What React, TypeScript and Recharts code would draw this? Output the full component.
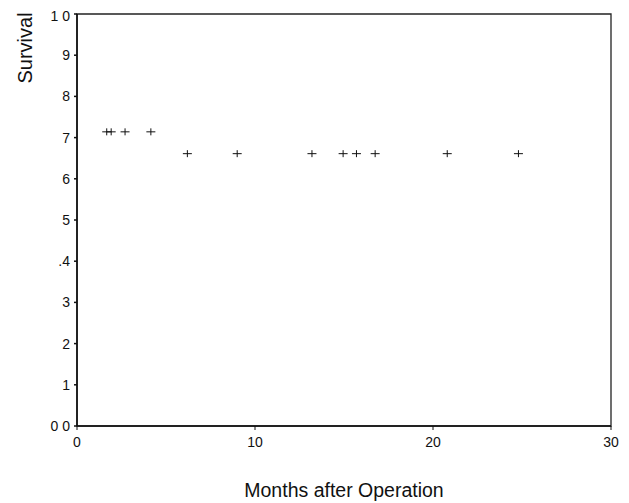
import React from 'react';
import { ScatterChart, Scatter, XAxis, YAxis, ReferenceArea } from 'recharts';

// tick values and the labels as they appear on the scan
const xTicks = [0, 10, 20, 30];
const yTicks = [0, 0.1, 0.2, 0.3, 0.4, 0.5, 0.6, 0.7, 0.8, 0.9, 1.0];
const yTickLabels = ['0 0', '1', '2', '3', '.4', '5', '6', '7', '8', '9', '1 0'];

// censored observations (+ marks)
const censorMonths = [1.67, 1.92, 2.7, 4.15, 6.2, 9.0, 13.2, 14.95, 15.7, 16.75, 20.8, 24.8];
const censorSurvival = [0.714, 0.714, 0.714, 0.714, 0.661, 0.661, 0.661, 0.661, 0.661, 0.661, 0.661, 0.661];

const data = censorMonths.map((m, i) => ({ month: m, survival: censorSurvival[i] }));

const CensorMark = (props) => {
  const { cx, cy } = props;
  return (
    <g stroke="#111" strokeWidth={1}>
      <line x1={cx} y1={cy - 3.5} x2={cx} y2={cy + 3.5} />
      <line x1={cx - 4.5} y1={cy} x2={cx + 4.5} y2={cy} />
    </g>
  );
};

const renderXLabel = (props) => {
  const { viewBox } = props;
  return (
    <text x={viewBox.x + viewBox.width / 2} y={viewBox.y + 71} textAnchor="middle" fontSize={19.5} fill="#111">
      Months after Operation
    </text>
  );
};

const renderYLabel = () => (
  <text x={24} y={40} transform="rotate(-90, 24, 40)" textAnchor="middle" fontSize={20} fill="#111">
    Survival
  </text>
);

export default function App() {
  return (
    <div style={{ fontFamily: '"Liberation Sans", Arial, sans-serif' }}>
      <ScatterChart width={621} height={495} margin={{ top: 6, right: 18, bottom: 0, left: 0 }}>
        <ReferenceArea x1={0} x2={30} y1={0} y2={1} fill="none" stroke="#222" strokeWidth={1.3} />
        <XAxis
          type="number"
          dataKey="month"
          domain={[0, 30]}
          ticks={xTicks}
          height={77}
          tickSize={4}
          tickMargin={7}
          axisLine={{ stroke: '#111', strokeWidth: 1.3 }}
          tickLine={{ stroke: '#111' }}
          tick={{ fontSize: 14, fill: '#111' }}
          label={{ content: renderXLabel }}
        />
        <YAxis
          type="number"
          dataKey="survival"
          domain={[0, 1]}
          ticks={yTicks}
          width={69}
          tickSize={3}
          tickMargin={4}
          axisLine={{ stroke: '#111', strokeWidth: 1.6 }}
          tickLine={{ stroke: '#111', strokeWidth: 1.5 }}
          tick={{ fontSize: 14, fill: '#111' }}
          tickFormatter={(v) => yTickLabels[Math.round(v * 10)]}
          label={{ content: renderYLabel }}
        />
        <Scatter data={data} shape={<CensorMark />} isAnimationActive={false} />
      </ScatterChart>
    </div>
  );
}
